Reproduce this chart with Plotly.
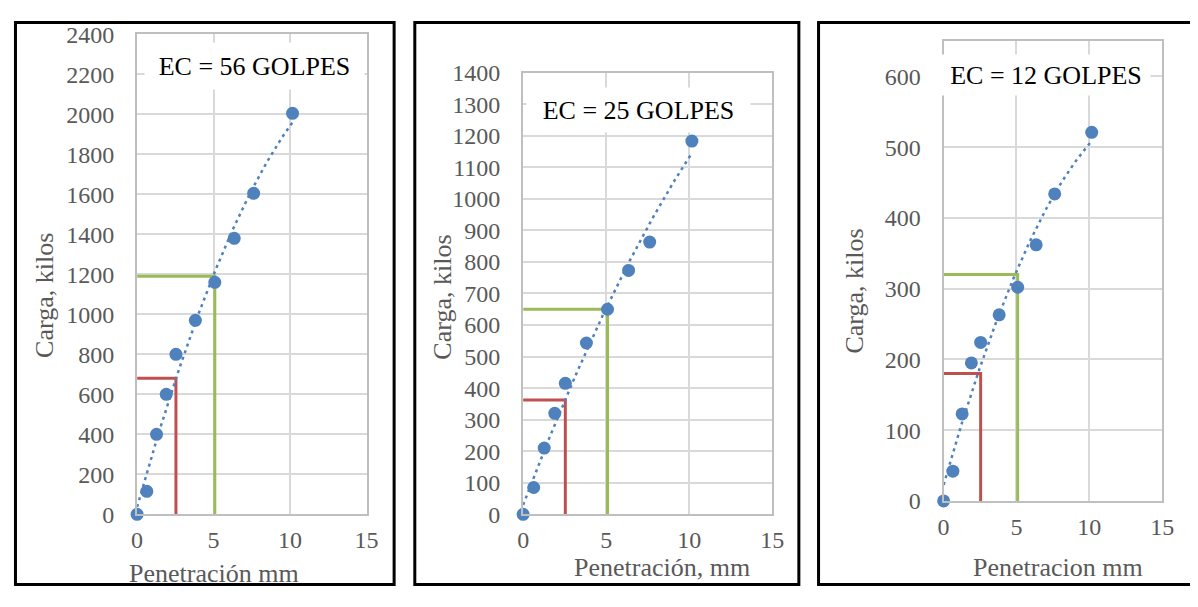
import numpy as np
import plotly.graph_objects as go

# The page keeps the browser's default 8px body margin, so the figure is made
# 16px smaller than the 1198x607 window (no page overflow) and all geometry
# below is given in window pixels, shifted by that margin.
WIN_W, WIN_H, PAGE_MARGIN = 1198, 607, 8
W, H = WIN_W - 2 * PAGE_MARGIN, WIN_H - 2 * PAGE_MARGIN

# ---------------- data ----------------
penetracion = [0, 0.635, 1.27, 1.905, 2.54, 3.81, 5.08, 6.35, 7.62, 10.16]

carga_56 = [0, 115, 400, 600, 800, 970, 1160, 1380, 1605, 2005]
carga_25 = [0, 85, 210, 320, 415, 543, 650, 773, 863, 1183]
carga_12 = [0, 42, 123, 195, 224, 263, 302, 362, 434, 521]

# reference lines at 2.54 mm (red) and 5.08 mm (green)
pen_01, pen_02 = 2.54, 5.08
ref_red = [680, 362, 180]
ref_green = [1190, 650, 320]

titles = ["EC = 56 GOLPES", "EC = 25 GOLPES", "EC = 12 GOLPES"]
xtitles = ["Penetración mm", "Penetración, mm", "Penetracion mm"]
ytitle = "Carga, kilos"
y_ranges = [[0, 2400], [0, 1400], [0, 650]]
y_dticks = [200, 100, 100]
x_ticks = [0, 5, 10, 15]

series = [carga_56, carga_25, carga_12]

# ---------------- layout geometry (window pixels) ----------------
plot_px = [  # x0, x1, ytop, ybottom
    (133, 366, 22, 524),
    (525, 778, 62, 524),
    (952, 1174, 29, 510),
]
frame_px = [  # outer black frames: left, right, top, bottom (None = off-window)
    (9.5, 394, 9.5, 597.5),
    (415, 805, 9.5, 597.5),
    (825, None, 9.5, 597.5),
]
ann_px = [  # label box center x, center y, width, height
    (252, 55, 217, 44),
    (642, 101, 221, 42),
    (1056, 64, 206, 38),
]
ytitle_px = [(39, 295), (443, 297), (862, 290)]
xtitle_px = [(211.5, 586), (666, 580), (1068, 580)]

BLUE = "#4F81BD"
RED = "#C0504D"
GREEN = "#9BBB59"
GRID = "#D9D9D9"
AXLINE = "#BFBFBF"
TXT = "#595959"
FONT = "Liberation Serif"


def px_x(v):
    return (v - PAGE_MARGIN) / W


def px_y(v):
    return 1 - (v - PAGE_MARGIN) / H


fig = go.Figure()
layout = dict(
    width=W, height=H,
    margin=dict(l=0, r=0, t=0, b=0),
    paper_bgcolor="white", plot_bgcolor="white",
    showlegend=False,
    font=dict(family=FONT, color=TXT, size=24),
)
shapes = []
annotations = []

for i in range(3):
    n = "" if i == 0 else str(i + 1)
    xa, ya = "x" + n, "y" + n
    x = np.array(penetracion)
    y = np.array(series[i])

    fig.add_trace(go.Scatter(
        x=[0, pen_01, pen_01], y=[ref_red[i], ref_red[i], 0],
        mode="lines", line=dict(color=RED, width=3),
        xaxis=xa, yaxis=ya, hoverinfo="skip", cliponaxis=False))
    fig.add_trace(go.Scatter(
        x=[0, pen_02, pen_02], y=[ref_green[i], ref_green[i], 0],
        mode="lines", line=dict(color=GREEN, width=3),
        xaxis=xa, yaxis=ya, hoverinfo="skip", cliponaxis=False))

    # polynomial (order 2) trendline fitted to the data
    coef = np.polyfit(x, y, 2)
    xt = np.linspace(x.min(), x.max(), 120)
    fig.add_trace(go.Scatter(
        x=xt, y=np.polyval(coef, xt), mode="lines",
        line=dict(color=BLUE, width=2.5, dash="3px,4px"),
        xaxis=xa, yaxis=ya, hoverinfo="skip"))

    fig.add_trace(go.Scatter(
        x=x, y=y, mode="markers",
        marker=dict(color=BLUE, size=13),
        xaxis=xa, yaxis=ya, cliponaxis=False))

    x0, x1, yt, yb = plot_px[i]
    layout["xaxis" + n] = dict(
        domain=[px_x(x0), px_x(x1)], range=[0, 15],
        tickvals=x_ticks, showgrid=True, gridcolor=GRID, gridwidth=2,
        showline=True, linecolor=AXLINE, linewidth=2, mirror=True,
        zeroline=False, ticks="", anchor=ya,
        tickfont=dict(family=FONT, size=24, color=TXT),
        ticklabelstandoff=3,
        fixedrange=True,
    )
    layout["yaxis" + n] = dict(
        domain=[px_y(yb), px_y(yt)], range=y_ranges[i], dtick=y_dticks[i],
        showgrid=True, gridcolor=GRID, gridwidth=2,
        showline=True, linecolor=AXLINE, linewidth=2, mirror=True,
        zeroline=False, ticks="", anchor=xa,
        tickfont=dict(family=FONT, size=24, color=TXT),
        ticklabelstandoff=16,
        fixedrange=True,
    )

    fl, fr, ft, fb = frame_px[i]
    if fr is None:
        path = "M {r},{t} L {l},{t} L {l},{b} L {r},{b}".format(
            l=px_x(fl), r=px_x(WIN_W + 20), t=px_y(ft), b=px_y(fb))
    else:
        path = "M {l},{t} L {r},{t} L {r},{b} L {l},{b} Z".format(
            l=px_x(fl), r=px_x(fr), t=px_y(ft), b=px_y(fb))
    shapes.append(dict(type="path", xref="paper", yref="paper", path=path,
                       line=dict(color="black", width=3)))

    cx, cy, bw, bh = ann_px[i]
    annotations.append(dict(
        text=titles[i], xref="paper", yref="paper",
        x=px_x(cx), y=px_y(cy), xanchor="center", yanchor="middle",
        showarrow=False, bgcolor="white", width=bw, height=bh,
        font=dict(family=FONT, size=26, color="black")))

    tx, ty = ytitle_px[i]
    annotations.append(dict(
        text=ytitle, xref="paper", yref="paper", x=px_x(tx), y=px_y(ty),
        xanchor="center", yanchor="middle", textangle=-90, showarrow=False,
        font=dict(family=FONT, size=26, color=TXT)))
    tx, ty = xtitle_px[i]
    annotations.append(dict(
        text=xtitles[i], xref="paper", yref="paper", x=px_x(tx), y=px_y(ty),
        xanchor="center", yanchor="middle", showarrow=False,
        font=dict(family=FONT, size=26, color=TXT)))

layout["shapes"] = shapes
layout["annotations"] = annotations
fig.update_layout(**layout)

fig.write_html("out.html", config={"displayModeBar": False})
